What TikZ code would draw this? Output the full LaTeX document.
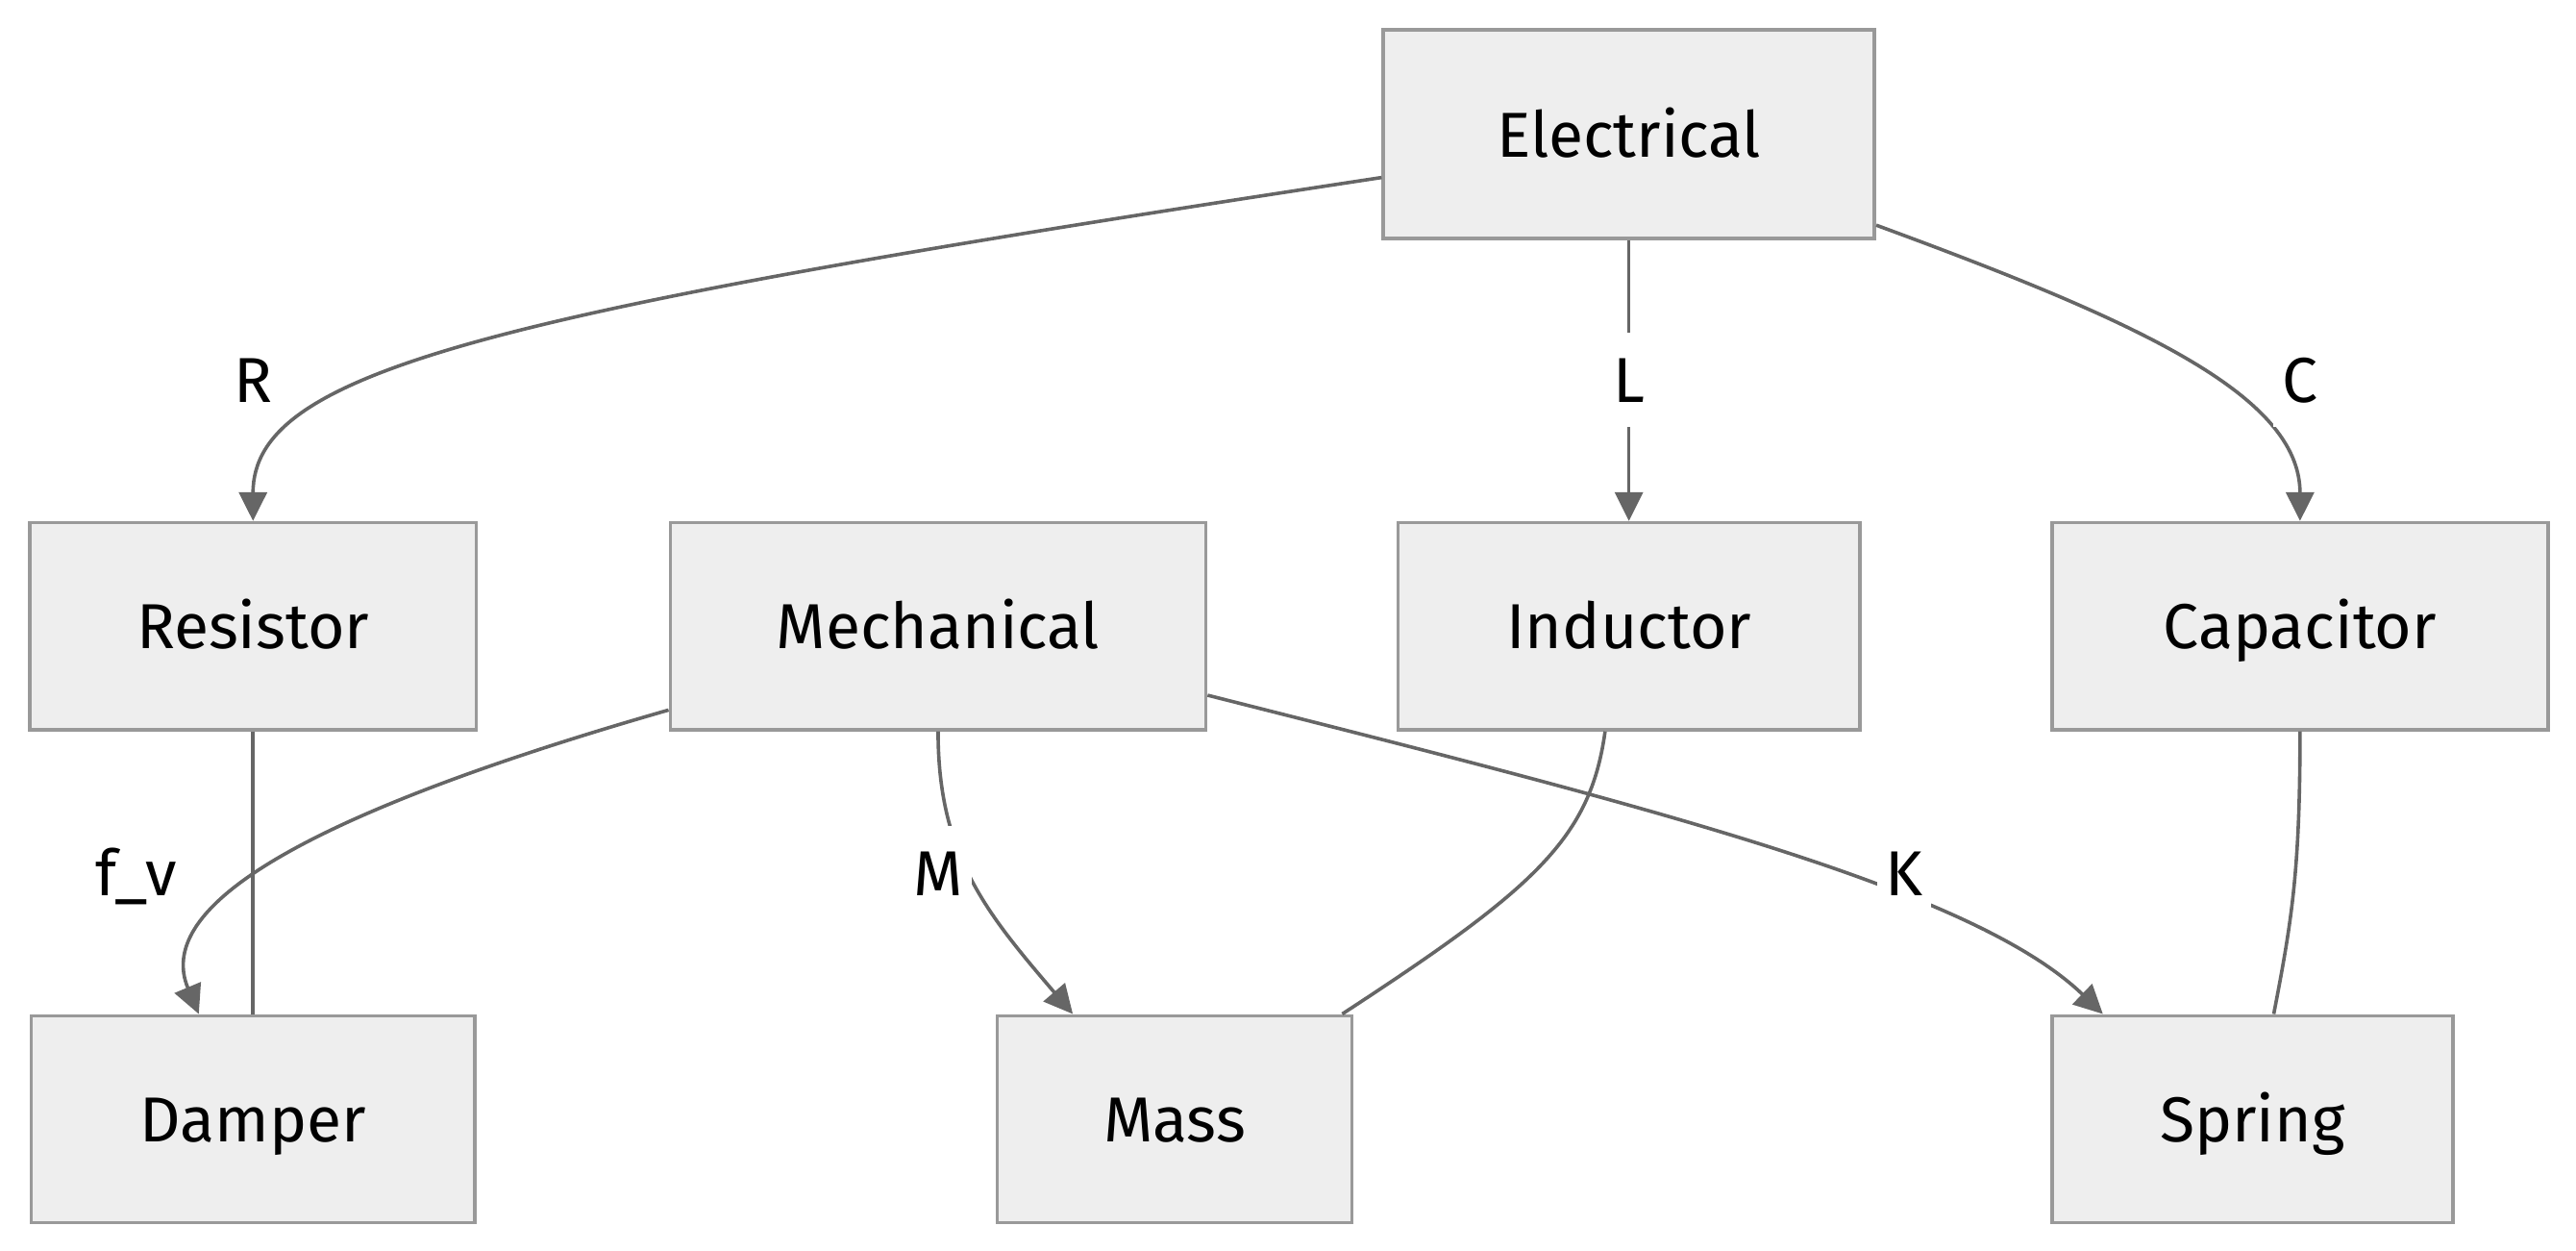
\documentclass[tikz,border=0pt]{standalone}
\usepackage{fontspec}
\setmainfont{Fira Sans}
\usepackage{tikz}
\usetikzlibrary{arrows.meta,positioning,calc}
\definecolor{nodefill}{HTML}{EEEEEE}
\definecolor{nodeline}{HTML}{999999}
\definecolor{edgecol}{HTML}{666666}

\begin{document}
\begin{tikzpicture}[
  box/.style={draw=nodeline, fill=nodefill, line width=0.6pt, minimum height=1.26cm, inner sep=0pt, text height=1.75ex, text depth=0.25ex, font=\fontsize{11}{13}\selectfont},
  arrow/.style={-{Triangle[length=0.175cm, width=0.17cm]}, draw=edgecol, line width=0.6pt},
  link/.style={draw=edgecol, line width=0.6pt},
  lab/.style={fill=white, inner xsep=1.5pt, inner ysep=0pt, minimum height=0.57cm, text height=1.75ex, text depth=0.25ex, font=\fontsize{11}{13}\selectfont}
]
\useasboundingbox (0,0) rectangle (15.68,-7.61);
\node[box, minimum width=2.99cm, minimum height=1.27cm] (elec) at (9.915,-0.815) {Electrical};
\node[box, minimum width=2.72cm] (res) at (1.54,-3.81) {Resistor};
\node[box, minimum width=3.26cm] (mech) at (5.71,-3.81) {Mechanical};
\node[box, minimum width=2.81cm] (ind) at (9.915,-3.81) {Inductor};
\node[box, minimum width=3.02cm] (cap) at (14.0,-3.81) {Capacitor};
\node[box, minimum width=2.70cm] (damp) at (1.54,-6.81) {Damper};
\node[box, minimum width=2.16cm] (mass) at (7.15,-6.81) {Mass};
\node[box, minimum width=2.44cm] (spring) at (13.71,-6.81) {Spring};
\draw[arrow] ([yshift=-0.265cm]elec.west) .. controls (3.0,-1.9) and (1.54,-2.25) .. (res.north);
\draw[arrow] (elec.south) -- (ind.north);
\draw[arrow] ([yshift=-0.555cm]elec.east) .. controls (13.0,-1.95) and (14.0,-2.4) .. (cap.north);
\draw[arrow] ([yshift=-0.51cm]mech.west) .. controls (1.7,-5.0) and (0.95,-5.55) .. ([xshift=-0.33cm]damp.north);
\draw[arrow] (mech.south) .. controls (5.71,-5.2) and (6.0,-5.55) .. ([xshift=-0.62cm]mass.north);
\draw[arrow] ([yshift=-0.42cm]mech.east) .. controls (10.0,-4.9) and (12.0,-5.4) .. ([xshift=-0.91cm]spring.north);
\draw[link] (res.south) -- (damp.north);
\draw[link] ([xshift=-0.145cm]ind.south) .. controls (9.68,-5.1) and (9.35,-5.4) .. ([xshift=1.02cm]mass.north);
\draw[link] (cap.south) .. controls (14.0,-5.3) and (13.95,-5.6) .. ([xshift=0.13cm]spring.north);
\node[lab] (labR) at (1.54,-2.31) {R};
\node[lab] (labL) at (9.915,-2.31) {L};
\node[lab] (labC) at (14.0,-2.31) {C};
\node[lab] (labF) at (0.83,-5.31) {f\_v};
\node[lab] (labM) at (5.71,-5.31) {M};
\node[lab] (labK) at (11.59,-5.31) {K};
\end{tikzpicture}
\end{document}
